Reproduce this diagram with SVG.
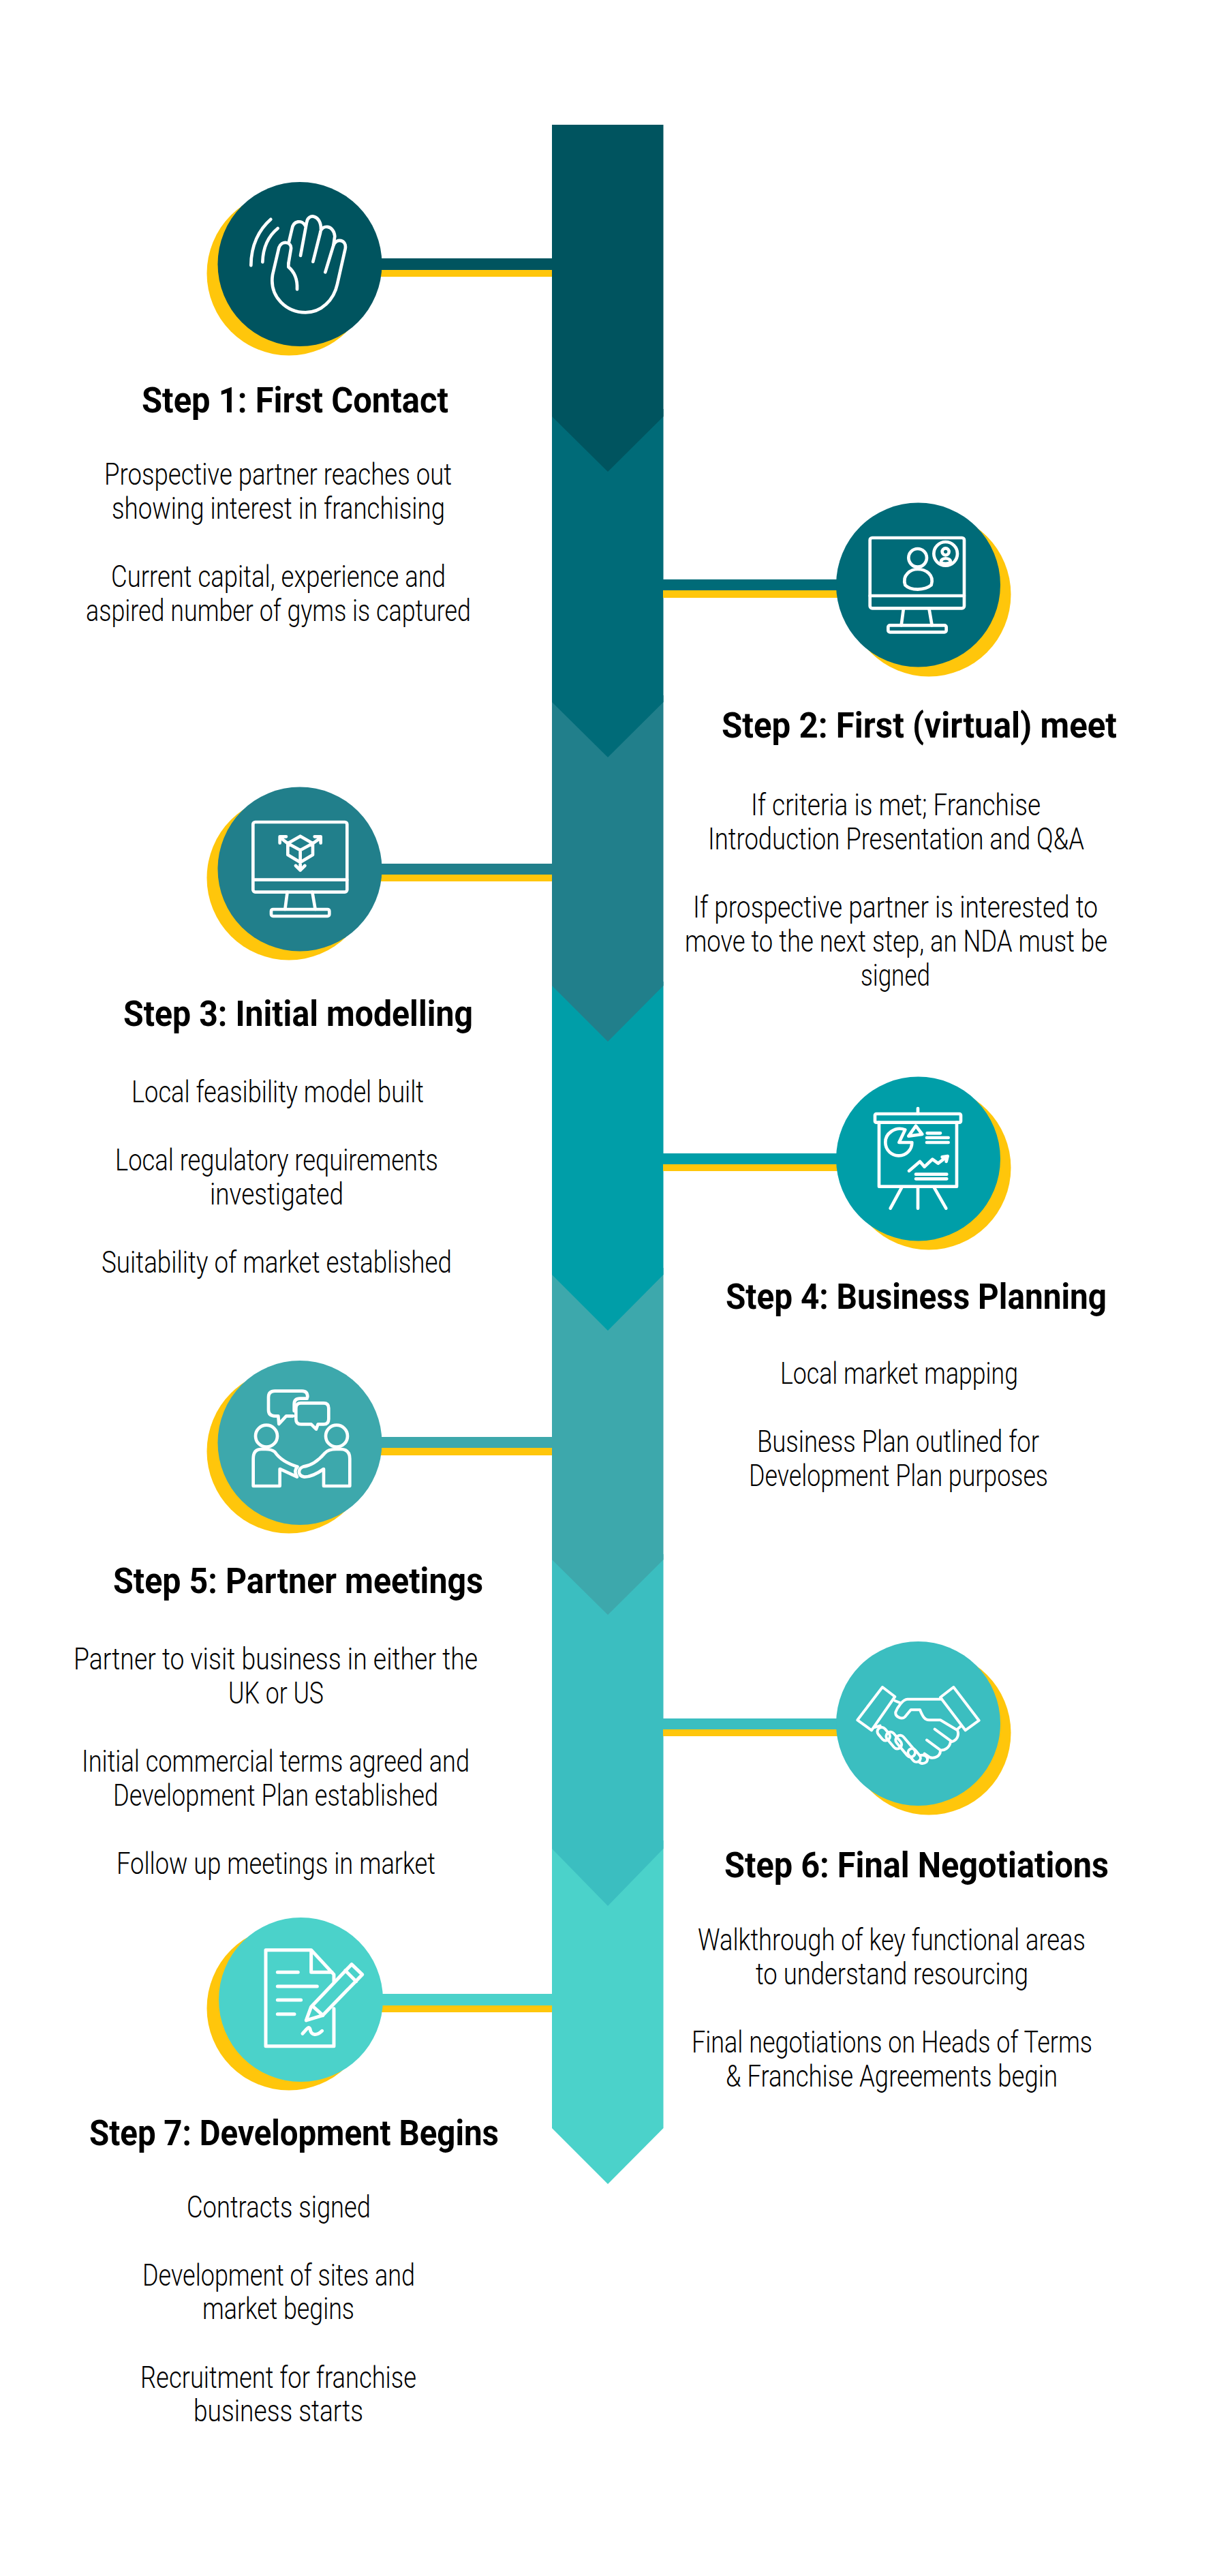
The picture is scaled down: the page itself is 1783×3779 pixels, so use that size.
<svg xmlns="http://www.w3.org/2000/svg" width="1783" height="3779" viewBox="0 0 1783 3779">
<style>
.h{font-family:Roboto,"Liberation Sans",sans-serif;font-weight:700;font-size:51px;fill:#000}
.b{font-family:Roboto,"Liberation Sans",sans-serif;font-weight:300;font-size:44px;fill:#000}
.y{fill:#ffc60b}
.i{fill:none;stroke:#fff;stroke-width:14;stroke-linecap:round;stroke-linejoin:round}
.c1{fill:#00545f}.c2{fill:#006b78}.c3{fill:#217f8b}.c4{fill:#009ea8}.c5{fill:#3da8ac}.c6{fill:#3bbec0}.c7{fill:#4bd2ca}
</style>
<rect width="1783" height="3779" fill="#fff"/>
<g id="spine">
<path class="c7" d="M810 2700H973.500V3122L892 3204L810 3122Z"/>
<path class="c6" d="M810 2280H973.500V2712L892 2796L810 2712Z"/>
<path class="c5" d="M810 1860H973.500V2288L892 2369L810 2288Z"/>
<path class="c4" d="M810 1440H973.500V1870L892 1952L810 1870Z"/>
<path class="c3" d="M810 1020H973.500V1446L892 1528L810 1446Z"/>
<path class="c2" d="M810 600H973.500V1030L892 1111L810 1030Z"/>
<path class="c1" d="M810 183H973.500V611L892 692L810 611Z"/>
</g>
<g id="connectors">
<rect class="y" x="550" y="396" width="260" height="10"/><rect class="c1" x="550" y="379" width="260" height="17"/>
<rect class="y" x="973" y="866" width="264" height="11"/><rect class="c2" x="973" y="850" width="264" height="16"/>
<rect class="y" x="550" y="1283" width="260" height="10"/><rect class="c3" x="550" y="1267" width="260" height="16"/>
<rect class="y" x="973" y="1708" width="264" height="10"/><rect class="c4" x="973" y="1692" width="264" height="16"/>
<rect class="y" x="550" y="2124" width="260" height="11"/><rect class="c5" x="550" y="2108" width="260" height="16"/>
<rect class="y" x="973" y="2537" width="264" height="10"/><rect class="c6" x="973" y="2521" width="264" height="16"/>
<rect class="y" x="550" y="2942" width="260" height="10"/><rect class="c7" x="550" y="2925" width="260" height="17"/>
</g>
<g id="step1">
<circle class="y" cx="424" cy="401" r="120.500"/><circle class="c1" cx="440" cy="387.500" r="120.500"/>
<g transform="translate(280 240) scale(.3333)" class="i">
<path d="M265 448C265 360 300 290 352 245M316 433C318 370 340 320 383 285"/>
<path d="M430 440L441 375C445 345 400 335 388 370L360 490C345 590 425 655 505 655C575 655 630 600 645 530L680 375C688 335 640 325 628 360L592 478"/>
<path d="M628 360L634 320C630 270 575 265 570 305L538 432M573 290C575 225 515 215 510 260L483 405M505 275C490 245 450 250 445 290L432 345"/>
<path d="M430 440L430 455C460 480 470 510 468 553"/>
</g>
<text class="h" x="208" y="605" textLength="450" lengthAdjust="spacingAndGlyphs">Step 1: First Contact</text>
<text class="b" x="153" y="711" textLength="510" lengthAdjust="spacingAndGlyphs">Prospective partner reaches out</text>
<text class="b" x="164" y="761" textLength="489" lengthAdjust="spacingAndGlyphs">showing interest in franchising</text>
<text class="b" x="163" y="861" textLength="491" lengthAdjust="spacingAndGlyphs">Current capital, experience and</text>
<text class="b" x="126" y="911" textLength="565" lengthAdjust="spacingAndGlyphs">aspired number of gyms is captured</text>
</g>
<g id="step2">
<circle class="y" cx="1363" cy="872" r="120.500"/><circle class="c2" cx="1347.500" cy="858" r="120.500"/>
<g transform="translate(1200 720) scale(.3333)" class="i">
<rect x="230" y="207" width="415" height="310" rx="10"/><path d="M230 462H645M378 517L368 592M490 517L503 592"/><rect x="310" y="592" width="256" height="30" rx="8"/>
<circle cx="440" cy="295" r="40"/><path d="M385 415C370 370 410 345 440 345C475 345 515 370 500 415C470 440 410 440 385 415Z"/>
<circle cx="563" cy="277" r="52"/><circle cx="563" cy="268" r="15"/><path d="M543 315C540 292 587 292 585 315C575 322 552 322 543 315Z"/>
</g>
<text class="h" x="1059" y="1082" textLength="580" lengthAdjust="spacingAndGlyphs">Step 2: First (virtual) meet</text>
<text class="b" x="1102" y="1196" textLength="425" lengthAdjust="spacingAndGlyphs">If criteria is met; Franchise</text>
<text class="b" x="1039" y="1246" textLength="552" lengthAdjust="spacingAndGlyphs">Introduction Presentation and Q&amp;A</text>
<text class="b" x="1017" y="1346" textLength="594" lengthAdjust="spacingAndGlyphs">If prospective partner is interested to</text>
<text class="b" x="1005" y="1396" textLength="620" lengthAdjust="spacingAndGlyphs">move to the next step, an NDA must be</text>
<text class="b" x="1263" y="1446" textLength="102" lengthAdjust="spacingAndGlyphs">signed</text>
</g>
<g id="step3">
<circle class="y" cx="424" cy="1288" r="120.500"/><circle class="c3" cx="440" cy="1275" r="120.500"/>
<g transform="translate(280 1130) scale(.3333)" class="i">
<rect x="274" y="228" width="414" height="308" rx="10"/><path d="M274 482H688M425 536L415 612M535 536L548 612"/><rect x="354" y="612" width="256" height="30" rx="8"/>
<path d="M482 290L537 322L482 352L427 322ZM427 322V372L482 405L537 372V322M482 352V440M427 322L395 297M537 322L572 297M392 320V292H420M545 292H572V320M462 420L482 440L502 420"/>
</g>
<text class="h" x="181" y="1505" textLength="513" lengthAdjust="spacingAndGlyphs">Step 3: Initial modelling</text>
<text class="b" x="193" y="1617" textLength="429" lengthAdjust="spacingAndGlyphs">Local feasibility model built</text>
<text class="b" x="169" y="1717" textLength="474" lengthAdjust="spacingAndGlyphs">Local regulatory requirements</text>
<text class="b" x="308" y="1767" textLength="196" lengthAdjust="spacingAndGlyphs">investigated</text>
<text class="b" x="149" y="1867" textLength="514" lengthAdjust="spacingAndGlyphs">Suitability of market established</text>
</g>
<g id="step4">
<circle class="y" cx="1363" cy="1713" r="120.500"/><circle class="c4" cx="1347.500" cy="1700" r="120.500"/>
<g transform="translate(1200 1550) scale(.3333)" class="i">
<rect x="252" y="252" width="378" height="38" rx="6"/><path d="M441 228V252"/><path d="M270 290V572H612V290M372 572L320 668M441 572V668M510 572L565 668"/>
<path d="M385 322C340 305 297 340 298 378C298 410 325 438 358 436C390 436 415 410 415 378L358 378Z"/><path d="M400 350L432 305L460 342Z"/>
<path d="M482 337H540M480 357H575M480 378H575M402 503L450 462L470 485L505 452L530 470L570 440M548 442L572 438L566 462M432 518H568M432 538H568"/>
</g>
<text class="h" x="1065" y="1920" textLength="559" lengthAdjust="spacingAndGlyphs">Step 4: Business Planning</text>
<text class="b" x="1145" y="2030" textLength="349" lengthAdjust="spacingAndGlyphs">Local market mapping</text>
<text class="b" x="1111" y="2130" textLength="414" lengthAdjust="spacingAndGlyphs">Business Plan outlined for</text>
<text class="b" x="1099" y="2180" textLength="439" lengthAdjust="spacingAndGlyphs">Development Plan purposes</text>
</g>
<g id="step5">
<circle class="y" cx="424" cy="2129" r="120.500"/><circle class="c5" cx="440" cy="2116.500" r="120.500"/>
<g transform="translate(280 1970) scale(.3333)" class="i">
<path d="M450 322H420L388 357L385 322H370Q342 322 342 295V240Q342 212 370 212H490Q514 212 514 238M455 300V270Q455 245 480 245H512"/>
<path d="M485 265H585Q607 265 607 287V335Q607 358 585 358H560L552 380L530 358H485Q463 358 463 335V287Q463 265 485 265Z"/>
<circle cx="333" cy="410" r="48"/><circle cx="642" cy="410" r="48"/>
<path d="M275 630H392V555L468 590C455 570 460 555 470 545C420 530 390 510 370 480Q355 468 330 468H310Q275 468 275 510Z"/>
<path d="M700 630H585V555C550 580 520 590 500 590C470 585 470 555 495 545C530 540 560 520 590 485Q605 468 640 468H660Q700 468 700 510Z"/>
</g>
<text class="h" x="166" y="2337" textLength="543" lengthAdjust="spacingAndGlyphs">Step 5: Partner meetings</text>
<text class="b" x="108" y="2449" textLength="593" lengthAdjust="spacingAndGlyphs">Partner to visit business in either the</text>
<text class="b" x="335" y="2499" textLength="140" lengthAdjust="spacingAndGlyphs">UK or US</text>
<text class="b" x="120" y="2599" textLength="569" lengthAdjust="spacingAndGlyphs">Initial commercial terms agreed and</text>
<text class="b" x="166" y="2649" textLength="477" lengthAdjust="spacingAndGlyphs">Development Plan established</text>
<text class="b" x="171" y="2749" textLength="468" lengthAdjust="spacingAndGlyphs">Follow up meetings in market</text>
</g>
<g id="step6">
<circle class="y" cx="1363" cy="2542" r="120.500"/><circle class="c6" cx="1347.500" cy="2528.500" r="120.500"/>
<g transform="translate(1200 2380) scale(.3333)" class="i" style="stroke-width:12">
<path d="M285 285L340 327L237 475L175 430ZM598 285L540 330L650 475L710 432Z"/>
<path d="M340 345L365 355M250 462L275 455M615 470L632 455"/>
<path d="M545 338H395C375 338 350 375 343 395C340 415 370 430 385 415L410 385H450C460 410 470 430 490 430H540L615 475C625 500 610 520 590 525L515 470M585 525C580 555 555 565 540 562L480 518M540 565C540 590 515 600 495 595L470 578"/>
<rect x="258" y="472" width="65" height="38" rx="19" transform="rotate(50 290 491)"/>
<rect x="293" y="500" width="85" height="38" rx="19" transform="rotate(50 335 519)"/>
<rect x="330" y="525" width="112" height="40" rx="20" transform="rotate(50 386 545)"/>
<rect x="392" y="567" width="66" height="36" rx="18" transform="rotate(50 425 585)"/>
<path d="M452 585C480 580 490 600 478 615C465 625 450 622 445 612"/>
</g>
<text class="h" x="1063" y="2754" textLength="564" lengthAdjust="spacingAndGlyphs">Step 6: Final Negotiations</text>
<text class="b" x="1024" y="2861" textLength="569" lengthAdjust="spacingAndGlyphs">Walkthrough of key functional areas</text>
<text class="b" x="1109" y="2911" textLength="400" lengthAdjust="spacingAndGlyphs">to understand resourcing</text>
<text class="b" x="1015" y="3011" textLength="588" lengthAdjust="spacingAndGlyphs">Final negotiations on Heads of Terms</text>
<text class="b" x="1065" y="3061" textLength="487" lengthAdjust="spacingAndGlyphs">&amp; Franchise Agreements begin</text>
</g>
<g id="step7">
<circle class="y" cx="424" cy="2946" r="120.500"/><circle class="c7" cx="441.500" cy="2933.500" r="120.500"/>
<g transform="translate(280 2790) scale(.3333)" class="i" style="stroke-width:15">
<path d="M630 350V320L530 212H330V635H630V470M530 212V310H622"/>
<path d="M382 310H472M382 372H556M382 432H485M382 494H456"/>
<path d="M508 522L530 462L708 275L755 320L580 500ZM535 458L582 500M680 302L728 350"/>
<path d="M492 580C510 560 520 545 525 560C530 590 555 590 578 568"/>
</g>
<text class="h" x="131" y="3147" textLength="601" lengthAdjust="spacingAndGlyphs">Step 7: Development Begins</text>
<text class="b" x="274" y="3253" textLength="270" lengthAdjust="spacingAndGlyphs">Contracts signed</text>
<text class="b" x="209" y="3353" textLength="400" lengthAdjust="spacingAndGlyphs">Development of sites and</text>
<text class="b" x="297" y="3402" textLength="223" lengthAdjust="spacingAndGlyphs">market begins</text>
<text class="b" x="206" y="3503" textLength="405" lengthAdjust="spacingAndGlyphs">Recruitment for franchise</text>
<text class="b" x="284" y="3552" textLength="249" lengthAdjust="spacingAndGlyphs">business starts</text>
</g>
</svg>
